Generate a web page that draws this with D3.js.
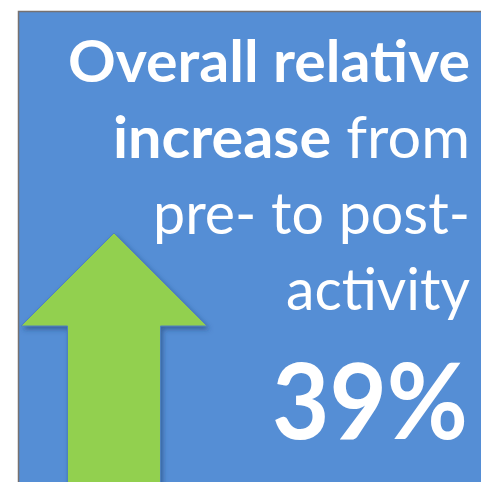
<!DOCTYPE html>
<html>
<head>
<meta charset="utf-8">
<script src="https://cdn.jsdelivr.net/npm/d3@7"></script>
<style>
  body { margin: 0; background: #fff; }
  svg { display: block; }
</style>
</head>
<body>
<div id="chart"></div>
<script>
// text lines of the callout, one entry per row (parts: [text, bold])
var lineParts = [
    [["Overall relative", true]],
    [["increase", true], [" from", false]],
    [["pre- to post-", false]],
    [["activity", false]]
];
var lineWidths = [402, 357, 317, 184];
var increasePct = [39];

var width = 481, height = 482;
var panel = { left: 18.5, top: 11.5 };

var svg = d3.select("#chart").append("svg")
    .attr("width", width)
    .attr("height", height);

var defs = svg.append("defs");
var shadow = defs.append("filter")
    .attr("id", "shadow")
    .attr("x", "-20%").attr("y", "-20%")
    .attr("width", "140%").attr("height", "140%");
shadow.append("feDropShadow")
    .attr("dx", 2).attr("dy", 3)
    .attr("stdDeviation", 2.5)
    .attr("flood-color", "#1f3f6e")
    .attr("flood-opacity", 0.55);

// blue panel
svg.append("rect")
    .attr("x", panel.left)
    .attr("y", panel.top)
    .attr("width", width - panel.left + 5)
    .attr("height", height - panel.top + 5)
    .style("fill", "#558ed5")
    .style("stroke", "#767171")
    .style("stroke-width", 1.5);

// arrow geometry on a unit box -> pixel scales
var ax = d3.scaleLinear().domain([0, 1]).range([21, 207]);
var ay = d3.scaleLinear().domain([0, 1]).range([233, 326]);
var arrowPts = [
    [0.5, 0], [1, 1], [0.75, 1], [0.75, 3.0],
    [0.25, 3.0], [0.25, 1], [0, 1]
];
var line = d3.line().x(function (d) { return ax(d[0]); }).y(function (d) { return ay(d[1]); });

svg.append("path")
    .attr("d", line(arrowPts) + "Z")
    .attr("filter", "url(#shadow)")
    .style("fill", "#92d050")
    .style("stroke", "#4f81bd")
    .style("stroke-width", 1)
    .style("stroke-linejoin", "miter");

// text block
var rightX = 470;
var baseY = d3.scaleLinear().domain([0, 1]).range([82, 158]);
var font = "Lato, 'Open Sans', sans-serif";

lineParts.forEach(function (parts, i) {
    var t = svg.append("text")
        .attr("x", rightX)
        .attr("y", baseY(i))
        .attr("text-anchor", "end")
        .attr("textLength", lineWidths[i])
        .attr("lengthAdjust", "spacingAndGlyphs")
        .style("font-family", font)
        .style("font-size", "58px")
        .style("fill", "#fff");
    parts.forEach(function (p) {
        t.append("tspan")
            .style("font-weight", p[1] ? 700 : 400)
            .text(p[0]);
    });
});

svg.append("text")
    .attr("x", 468)
    .attr("y", 439)
    .attr("text-anchor", "end")
    .attr("textLength", 196)
    .attr("lengthAdjust", "spacingAndGlyphs")
    .style("font-family", font)
    .style("font-weight", 700)
    .style("font-size", "106px")
    .style("fill", "#fff")
    .text(d3.format("d")(increasePct[0]) + "%");
</script>
</body>
</html>
